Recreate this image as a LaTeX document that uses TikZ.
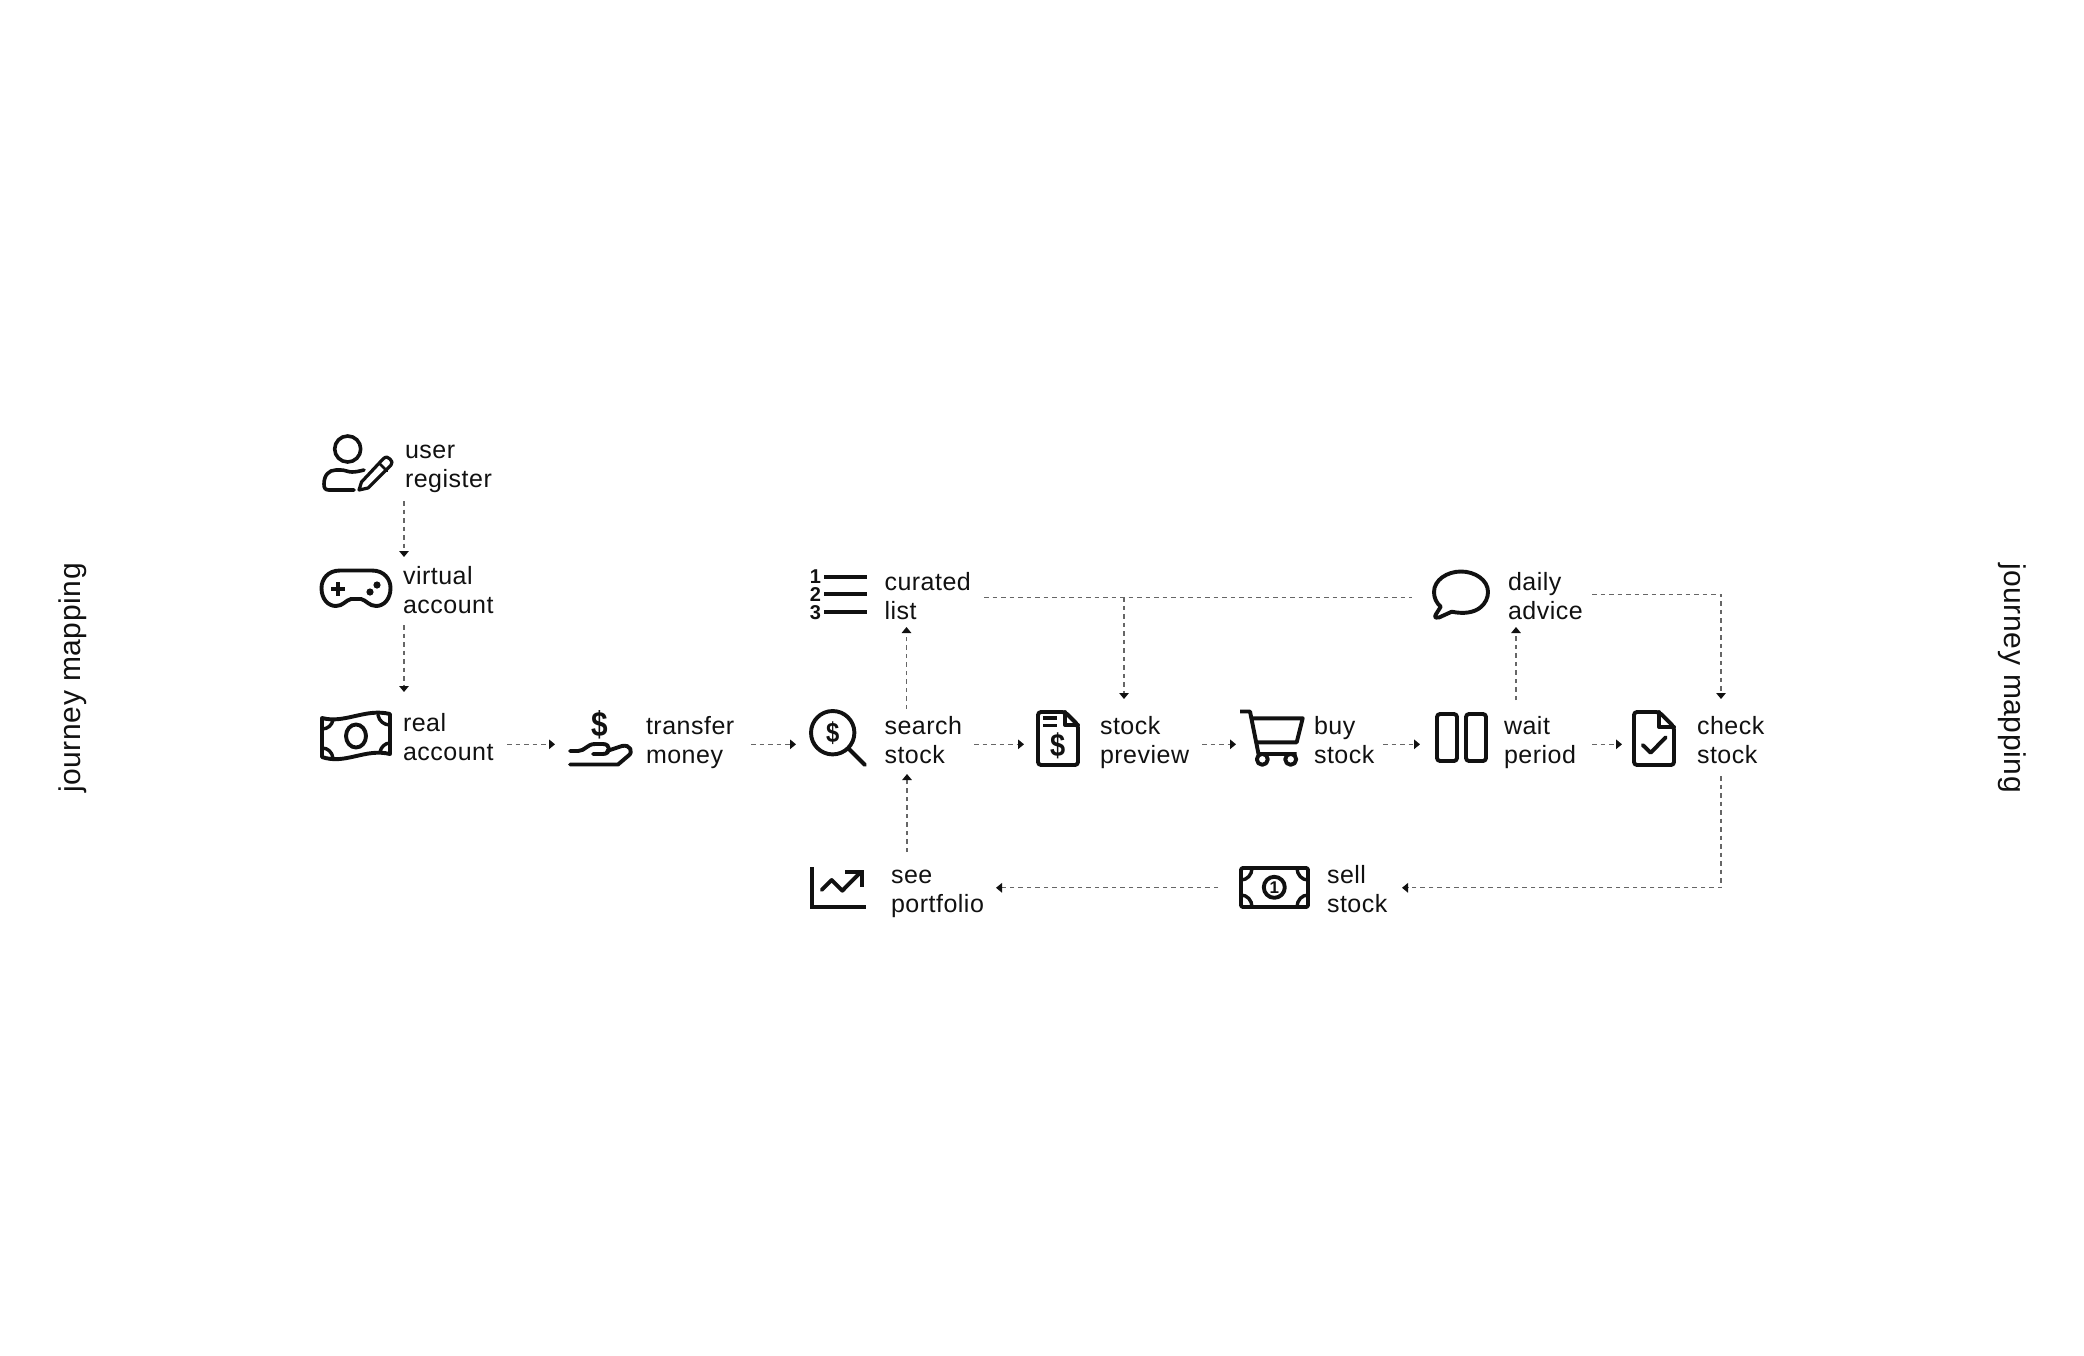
\documentclass[tikz,border=0pt]{standalone}
\usepackage{fontspec}
\setmainfont{Liberation Sans}[LetterSpace=2]
\newfontfamily\iconfont{Liberation Sans}[Scale=1]
\usetikzlibrary{arrows.meta}
\newcommand\twol[2]{\rule{0pt}{21.6pt}#1\\\rule[-7.4pt]{0pt}{7.4pt}#2}
\definecolor{ink}{HTML}{111111}
\definecolor{dashink}{HTML}{666666}
\tikzset{
  lab/.style={anchor=north west,inner sep=0pt,outer sep=0pt,align=left,text=ink,font=\fontsize{25}{29}\selectfont},
  side/.style={inner sep=0pt,text=ink,font=\fontsize{30}{34}\selectfont},
  iconbox/.style={inner sep=0pt,outer sep=0pt,minimum width=#1},
  ico/.style={draw=ink,line width=3.9pt,line cap=round,line join=round,rounded corners=0pt},
  glyph/.style={inner sep=0pt,text=ink},
  flow/.style={draw=dashink,line width=1.3pt,dash pattern=on 4.5pt off 4pt,-{Triangle[width=9.5pt,length=6pt,color=ink]}},
  plain/.style={draw=dashink,line width=1.3pt,dash pattern=on 4.5pt off 4pt},
}
\begin{document}
\begin{tikzpicture}[x=1pt,y=-1pt]
\useasboundingbox (0,0) rectangle (2084,1355);
\fill[white] (0,0) rectangle (2084,1355);

% side titles
\node[side,rotate=90] (titleL) at (73,678) {journey mapping};
\node[side,rotate=-90] (titleR) at (2012,678) {journey mapping};

% labels
\node[lab] (user) at (405,436.7) {\twol{user}{register}};
\node[lab] (virtual) at (403,562.7) {\twol{virtual}{account}};
\node[lab] (real) at (403,709.7) {\twol{real}{account}};
\node[lab] (transfer) at (646,712.7) {\twol{transfer}{money}};
\node[lab] (search) at (884.5,712.7) {\twol{search}{stock}};
\node[lab] (curated) at (884.5,568.7) {\twol{curated}{list}};
\node[lab] (portfolio) at (891,861.7) {\twol{see}{portfolio}};
\node[lab] (preview) at (1100,712.7) {\twol{stock}{preview}};
\node[lab] (buy) at (1314,712.7) {\twol{buy}{stock}};
\node[lab] (sell) at (1327,861.7) {\twol{sell}{stock}};
\node[lab] (wait) at (1504,712.7) {\twol{wait}{period}};
\node[lab] (daily) at (1508,568.7) {\twol{daily}{advice}};
\node[lab] (check) at (1697,712.7) {\twol{check}{stock}};

% icon frames (invisible, used as connector ends)
\node[iconbox=64pt,minimum height=56pt] (iTransfer) at (600,739) {};
\node[iconbox=56pt,minimum height=56pt] (iSearch) at (838,738) {};
\node[iconbox=42pt,minimum height=55pt] (iPreview) at (1058,738.5) {};
\node[iconbox=64pt,minimum height=56pt] (iCart) at (1271,738) {};
\node[iconbox=49pt,minimum height=49pt] (iPause) at (1461.5,737.5) {};
\node[iconbox=42pt,minimum height=55pt] (iCheck) at (1654,738.5) {};
\node[iconbox=56pt,minimum height=48pt] (iSpeech) at (1461,595) {};
\node[iconbox=69pt,minimum height=41pt] (iBill) at (1274.5,887.5) {};

% user icon
\draw[ico,line width=3.6pt] (347.7,449) circle (13);
\draw[ico,line width=3.6pt] (354,490) -- (329,490) .. controls (325,490) and (324,488) .. (324,484) .. controls (324,475) and (329,470) .. (336,470) -- (341,470) .. controls (345,470) and (348,472) .. (352,472) .. controls (356,472) and (360,471) .. (364,470);
\draw[ico,line width=3.2pt] (359,490) -- (361.5,482) -- (383,459) .. controls (386,456) and (388,457) .. (390,459) .. controls (392,461) and (393,463) .. (391,465) -- (368,488) -- cycle;
\draw[ico,line width=2.8pt] (379,463) -- (387,471);

% game controller
\draw[ico] (340,570.5) -- (372,570.5) .. controls (384,570.5) and (390.5,579) .. (390.5,588) .. controls (390.5,599) and (384,606) .. (376,606) .. controls (369,606) and (366,600) .. (361,599) -- (351,599) .. controls (346,600) and (343,606) .. (336,606) .. controls (328,606) and (321.5,599) .. (321.5,588) .. controls (321.5,579) and (328,570.5) .. (340,570.5) -- cycle;
\draw[ico,line width=4.4pt,line cap=butt] (331,589) -- (345,589) (338,582) -- (338,596);
\fill[ink] (377,585) circle (3.6) (370,592) circle (3.6);

% money
\draw[ico] (322,718) .. controls (345,724) and (365,708) .. (390,714) -- (390,754) .. controls (365,748) and (345,765) .. (322,757) -- cycle;
\draw[ico] (356,736) ellipse (10 and 11.5);
\draw[ico,line width=3.4pt] (322,729) .. controls (328,729) and (332,725) .. (333,720);
\draw[ico,line width=3.4pt] (378,715) .. controls (379,721) and (384,725) .. (390,725);
\draw[ico,line width=3.4pt] (390,743) .. controls (385,743) and (381,747) .. (380,752);
\draw[ico,line width=3.4pt] (322,748) .. controls (328,748) and (332,752) .. (333,758);

% transfer hand
\node[glyph,xscale=.85,font=\iconfont\bfseries\fontsize{35}{35}\selectfont] (gTransfer) at (600,725) {\$};
\draw[ico] (570,751) -- (578,751) .. controls (585,751) and (587,744) .. (595,744) -- (603,744) .. controls (611,744) and (611,754) .. (603,754) -- (593,754);
\draw[ico] (607,751) -- (622,746) .. controls (630,744) and (634,752) .. (628,756) -- (618,764.5) -- (570,764.5);

% search
\draw[ico] (832.7,732.7) circle (21.7);
\draw[ico] (849.3,749.3) -- (865,765);
\node[glyph,xscale=.85,font=\iconfont\bfseries\fontsize{28}{28}\selectfont] (gSearch) at (832.7,733) {\$};

% list
\node[glyph,font=\iconfont\bfseries\fontsize{20}{20}\selectfont] (n1) at (815.5,577) {1};
\node[glyph,font=\iconfont\bfseries\fontsize{20}{20}\selectfont] (n2) at (815.5,595) {2};
\node[glyph,font=\iconfont\bfseries\fontsize{20}{20}\selectfont] (n3) at (815.5,613) {3};
\draw[ico,line cap=butt,line width=4.2pt] (824,576.7) -- (866.7,576.7) (824,594.3) -- (866.7,594.3) (824,612.3) -- (866.7,612.3);

% chart
\draw[ico,line cap=butt,line join=miter] (811.7,867) -- (811.7,907) -- (866,907);
\draw[ico] (821.7,890) -- (831.7,880) -- (842.3,890.7) -- (860,872.7);
\draw[ico,line cap=butt,line join=miter] (845,871.7) -- (861.7,871.7) -- (861.7,886.7);

% preview doc
\draw[ico,rounded corners=3pt] (1065,712) -- (1038,712) -- (1038,765) -- (1078,765) -- (1078,725) -- cycle;
\draw[ico] (1065,712) -- (1065,725) -- (1078,725);
\draw[ico,line cap=butt] (1043,718) -- (1057,718) (1043,725.5) -- (1057,725.5);
\node[glyph,xscale=.85,font=\iconfont\bfseries\fontsize{32}{32}\selectfont] (gPreview) at (1057.7,746) {\$};

% cart
\draw[ico,line cap=butt] (1240,711.5) -- (1250,711.5) -- (1258.5,754) -- (1296.7,754);
\draw[ico,line cap=butt] (1252,718.3) -- (1302.7,718.3) -- (1296.7,742.3) -- (1256.5,742.3);
\draw[ico,fill=white] (1262.3,759.3) circle (5.5);
\draw[ico,fill=white] (1290.7,759.3) circle (5.5);

% pause
\draw[ico,rounded corners=3pt] (1437,714) rectangle (1457,761);
\draw[ico,rounded corners=3pt] (1466,714) rectangle (1486,761);

% speech bubble
\draw[ico] (1451.7,611.7) .. controls (1478,617) and (1488,603) .. (1488,592) .. controls (1488,580) and (1475,571.5) .. (1461,571.5) .. controls (1447,571.5) and (1434,580) .. (1434,592) .. controls (1434,598) and (1436.5,603) .. (1440.7,606.7) -- (1435.5,615) .. controls (1434,618) and (1437,618) .. (1439,617.5) -- cycle;

% check doc
\draw[ico,rounded corners=3pt] (1659,712) -- (1634,712) -- (1634,765) -- (1674,765) -- (1674,727) -- cycle;
\draw[ico] (1659,712) -- (1659,727) -- (1674,727);
\draw[ico] (1642.7,745) -- (1650.7,752.7) -- (1665.7,737.3);

% bill
\draw[ico,rounded corners=2pt] (1241,868) rectangle (1308,907);
\draw[ico] (1274.3,887.3) circle (10.5);
\node[glyph,font=\iconfont\bfseries\fontsize{17}{17}\selectfont] (gBill) at (1274.3,887.5) {1};
\draw[ico,line width=3.4pt] (1241,880) .. controls (1247,880) and (1252,875) .. (1252,868);
\draw[ico,line width=3.4pt] (1297,868) .. controls (1297,875) and (1302,880) .. (1308,880);
\draw[ico,line width=3.4pt] (1241,895) .. controls (1247,895) and (1252,900) .. (1252,907);
\draw[ico,line width=3.4pt] (1297,907) .. controls (1297,900) and (1302,895) .. (1308,895);

% connectors
\draw[flow] ([shift={(-1,6.3)}]user.south west) -- ([shift={(1,-5.7)}]virtual.north west);
\draw[flow] ([shift={(1,4.3)}]virtual.south west) -- ([shift={(1,-17.7)}]real.north west);
\draw[flow] ([shift={(104,5.6)}]real.west) -- ([shift={(-13,5.3)}]iTransfer.west);
\draw[flow] ([shift={(105,2.6)}]transfer.west) -- ([shift={(-14,6.3)}]iSearch.west);
\draw[flow] ([shift={(89.5,2.6)}]search.west) -- ([shift={(-13,5.8)}]iPreview.west);
\draw[flow] ([shift={(102,2.6)}]preview.west) -- ([shift={(-3,6.3)}]iCart.west);
\draw[flow] ([shift={(69,2.6)}]buy.west) -- ([shift={(-17,6.8)}]iPause.west);
\draw[flow] ([shift={(88,2.6)}]wait.west) -- ([shift={(-11,5.8)}]iCheck.west);
\draw[flow] ([shift={(22,-3.7)}]search.north west) -- ([shift={(22,.3)}]curated.south west);
\draw[flow] ([shift={(16,-9.7)}]portfolio.north west) -- ([shift={(22.5,3.3)}]search.south west);
\draw[flow] ([shift={(-22,.3)}]iBill.west) -- ([shift={(105,-2.9)}]portfolio.west);
\draw[flow] ([shift={(24,5.3)}]check.south west) |- ([shift={(75,-2.9)}]sell.west);
\draw[flow] ([shift={(84,-3.3)}]daily.west) -| ([shift={(24,-13.7)}]check.north west);
\draw[plain] ([shift={(99.5,-.4)}]curated.west) -- ([shift={(-21,2.3)}]iSpeech.west);
\coordinate (junction) at (1124,597.3);
\draw[flow] (junction) -- ([shift={(24,-13.7)}]preview.north west);
\draw[flow] ([shift={(12,-12.7)}]wait.north west) -- ([shift={(8,.3)}]daily.south west);
\end{tikzpicture}
\end{document}
